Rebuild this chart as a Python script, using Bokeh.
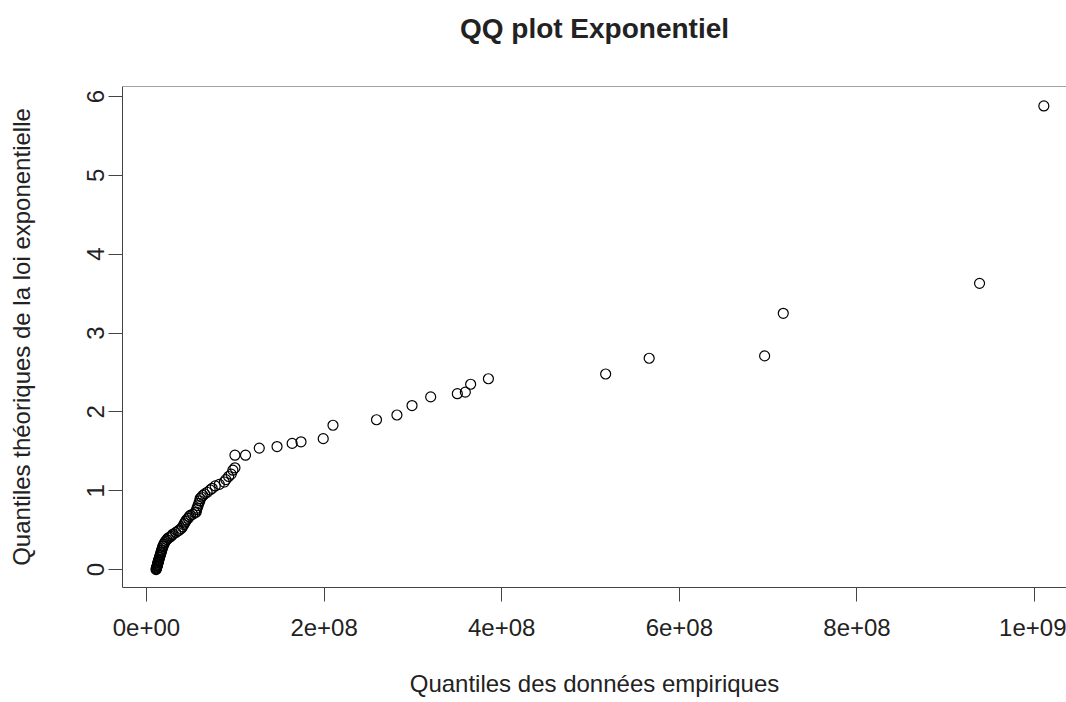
from bokeh.plotting import figure
from bokeh.models import Range1d, FixedTicker, Span, ColumnDataSource, Title
from bokeh.embed import file_html
from bokeh.resources import INLINE

# Empirical quantiles (x) and theoretical exponential quantiles (y)
emp_quantiles = [
    10.8e6, 11.0e6, 11.3e6, 11.6e6, 11.9e6, 12.2e6, 12.4e6, 12.6e6, 12.8e6, 13.0e6,
    13.3e6, 13.5e6, 13.8e6, 14.1e6, 14.6e6, 14.9e6, 15.4e6, 15.7e6, 16.2e6, 16.5e6,
    17.0e6, 17.3e6, 17.9e6, 18.3e6, 18.9e6, 19.5e6, 20.5e6, 21.5e6, 23.0e6, 24.4e6,
    26.0e6, 27.5e6, 29.0e6, 30.0e6, 33.0e6, 35.5e6, 37.0e6, 39.0e6, 40.5e6, 42.0e6,
    43.0e6, 44.0e6, 45.0e6, 47.0e6, 48.0e6, 49.5e6, 52.0e6, 54.5e6, 56.0e6, 56.5e6,
    57.0e6, 58.0e6, 59.0e6, 60.0e6, 60.4e6, 62.0e6, 63.5e6, 65.5e6, 68.3e6, 71.7e6,
    74.0e6, 77.4e6, 82.0e6, 87.6e6, 89.4e6, 92.5e6, 95.4e6, 97.3e6, 99.6e6,
    99.6e6, 111.5e6, 127e6, 147e6, 164e6, 174e6, 199e6, 210e6, 259e6, 282e6,
    299e6, 320e6, 350e6, 359e6, 365e6, 385e6, 517e6, 566e6, 696e6, 717e6,
    938e6, 1010.4e6,
]
theo_quantiles = [
    0.00, 0.01, 0.02, 0.03, 0.04, 0.05, 0.06, 0.07, 0.08, 0.09,
    0.10, 0.11, 0.12, 0.13, 0.15, 0.16, 0.18, 0.19, 0.21, 0.22,
    0.24, 0.25, 0.27, 0.29, 0.30, 0.32, 0.34, 0.36, 0.38, 0.40,
    0.41, 0.42, 0.44, 0.45, 0.47, 0.49, 0.50, 0.52, 0.54, 0.57,
    0.59, 0.61, 0.63, 0.65, 0.67, 0.69, 0.70, 0.72, 0.73, 0.76,
    0.78, 0.81, 0.84, 0.87, 0.90, 0.92, 0.94, 0.96, 0.98, 1.01,
    1.03, 1.06, 1.08, 1.11, 1.14, 1.18, 1.21, 1.26, 1.29,
    1.45, 1.45, 1.54, 1.56, 1.60, 1.62, 1.66, 1.83, 1.90, 1.96,
    2.08, 2.19, 2.23, 2.25, 2.35, 2.42, 2.48, 2.68, 2.71, 3.25,
    3.63, 5.88,
]

x_ticks = [0, 2e8, 4e8, 6e8, 8e8, 1e9]
x_tick_labels = ["0e+00", "2e+08", "4e+08", "6e+08", "8e+08", "1e+09"]
y_ticks = [0, 1, 2, 3, 4, 5, 6]
title_text = "QQ plot Exponentiel"

FONT = "Liberation Sans"
TXT = "#222222"
LINE = "#444444"

p = figure(
    width=1066, height=701,
    output_backend="svg", toolbar_location=None,
    x_range=Range1d(-27e6, 1035.9e6), y_range=Range1d(-0.228, 6.127),
    min_border_left=122, min_border_right=0, min_border_top=86, min_border_bottom=114,
    background_fill_color="white", border_fill_color="white",
)
p.outline_line_color = None
p.grid.visible = False

p.title.text = title_text
p.title.align = "center"
p.title.vertical_align = "bottom"
p.title.text_font = FONT
p.title.text_font_size = "28px"
p.title.text_font_style = "bold"
p.title.text_color = TXT
p.title.standoff = 0

# empty spacer panel between the title and the frame
p.add_layout(Title(text=" ", text_font_size="10px", standoff=30), "above")

src = ColumnDataSource(dict(x=emp_quantiles, y=theo_quantiles))
p.scatter("x", "y", source=src, marker="circle", size=10,
          fill_color=None, line_color="black", line_width=1.2)

# top edge of the box (right edge lies outside the picture in the reference)
p.add_layout(Span(location=6.127, dimension="width", line_color=LINE, line_width=1))

xa = p.xaxis[0]
xa.ticker = FixedTicker(ticks=x_ticks, minor_ticks=[])
xa.major_label_overrides = {t: l for t, l in zip(x_ticks, x_tick_labels)}
xa.axis_label = "Quantiles des données empiriques"

ya = p.yaxis[0]
ya.ticker = FixedTicker(ticks=y_ticks, minor_ticks=[])
ya.axis_label = "Quantiles théoriques de la loi exponentielle"
ya.major_label_orientation = "vertical"

for ax in (xa, ya):
    ax.axis_line_color = LINE
    ax.axis_line_width = 1
    ax.major_tick_line_color = LINE
    ax.major_tick_line_width = 1
    ax.major_tick_in = 0
    ax.major_tick_out = 14
    ax.minor_tick_line_color = None
    ax.major_label_text_font = FONT
    ax.major_label_text_font_size = "24px"
    ax.major_label_text_color = TXT
    ax.axis_label_text_font = FONT
    ax.axis_label_text_font_size = "24px"
    ax.axis_label_text_font_style = "normal"
    ax.axis_label_text_color = TXT

xa.major_label_standoff = 17
xa.axis_label_standoff = 31
ya.major_label_standoff = 4
ya.axis_label_standoff = 50

open("out.html", "w").write(file_html(p, INLINE))
